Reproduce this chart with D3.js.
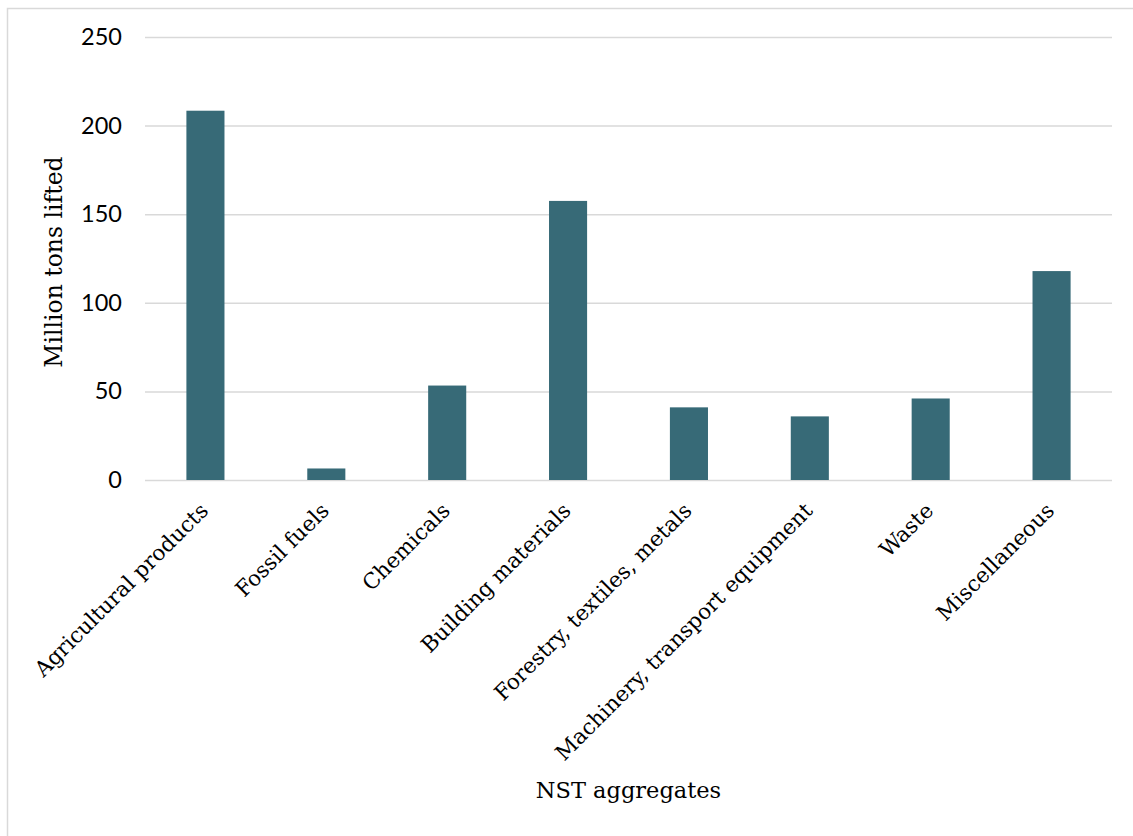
<!DOCTYPE html>
<html>
<head>
<meta charset="utf-8">
<script src="https://cdn.jsdelivr.net/npm/d3@7"></script>
<style>
  html, body { margin: 0; padding: 0; background: #ffffff; }
  svg { display: block; }
</style>
</head>
<body>
<svg id="chart" width="1133" height="836"></svg>
<script>
// Freight lifted by NST aggregate (million tons)
const categories = [
  "Agricultural products",
  "Fossil fuels",
  "Chemicals",
  "Building materials",
  "Forestry, textiles, metals",
  "Machinery, transport equipment",
  "Waste",
  "Miscellaneous"
];
const values = [208.4, 6.5, 53.3, 157.5, 41.0, 35.9, 46.0, 117.9];
const yTicks = [0, 50, 100, 150, 200, 250];

const xTitle = "NST aggregates";
const yTitle = "Million tons lifted";

const W = 1133, H = 836;
const margin = { left: 145, right: 21, top: 37, bottom: 356 };
const barColor = "#376a77";
const gridColor = "#d9d9d9";
const serif = "'DejaVu Serif', serif";
const numFont = "Lato, 'Noto Sans', sans-serif";

const svg = d3.select("#chart");

// chart frame
svg.append("rect")
  .attr("x", 7.5).attr("y", 8.5)
  .attr("width", W + 10).attr("height", H + 10)
  .attr("fill", "#ffffff")
  .attr("stroke", gridColor).attr("stroke-width", 1.5);

const x = d3.scaleBand()
  .domain(categories)
  .range([margin.left, W - margin.right])
  .paddingInner(0.685)
  .paddingOuter(0.3425);

const y = d3.scaleLinear()
  .domain([0, 250])
  .range([H - margin.bottom, margin.top]);

// gridlines and y tick labels
const yAxis = d3.axisLeft(y)
  .tickValues(yTicks)
  .tickSize(-(W - margin.right - margin.left))
  .tickPadding(23);

const gy = svg.append("g")
  .attr("transform", `translate(${margin.left},0)`)
  .call(yAxis);
gy.select(".domain").remove();
gy.selectAll(".tick line")
  .attr("stroke", gridColor).attr("stroke-width", 1.5);
gy.selectAll(".tick text")
  .attr("fill", "#000")
  .style("font-family", numFont)
  .style("font-size", "23.5px");

// bars
svg.append("g")
  .selectAll("rect")
  .data(values)
  .join("rect")
  .attr("x", (d, i) => x(categories[i]))
  .attr("y", d => y(d))
  .attr("width", x.bandwidth())
  .attr("height", d => y(0) - y(d))
  .attr("fill", barColor);

// category labels, rotated
const xAxis = d3.axisBottom(x).tickSize(0).tickPadding(0);
const gx = svg.append("g")
  .attr("transform", `translate(0,${y(0)})`)
  .call(xAxis);
gx.select(".domain").remove();
gx.selectAll(".tick text")
  .attr("fill", "#000")
  .attr("text-anchor", "end")
  .attr("dy", null)
  .attr("y", null)
  .attr("transform", "translate(4,32) rotate(-45)")
  .style("font-family", serif)
  .style("font-size", "21.5px");

// axis titles
svg.append("text")
  .attr("x", (margin.left + W - margin.right) / 2)
  .attr("y", 798)
  .attr("text-anchor", "middle")
  .style("font-family", serif)
  .style("font-size", "22.5px")
  .attr("fill", "#000")
  .text(xTitle);

svg.append("text")
  .attr("transform", "translate(62,262) rotate(-90)")
  .attr("text-anchor", "middle")
  .style("font-family", serif)
  .style("font-size", "23.5px")
  .attr("fill", "#000")
  .text(yTitle);
</script>
</body>
</html>
